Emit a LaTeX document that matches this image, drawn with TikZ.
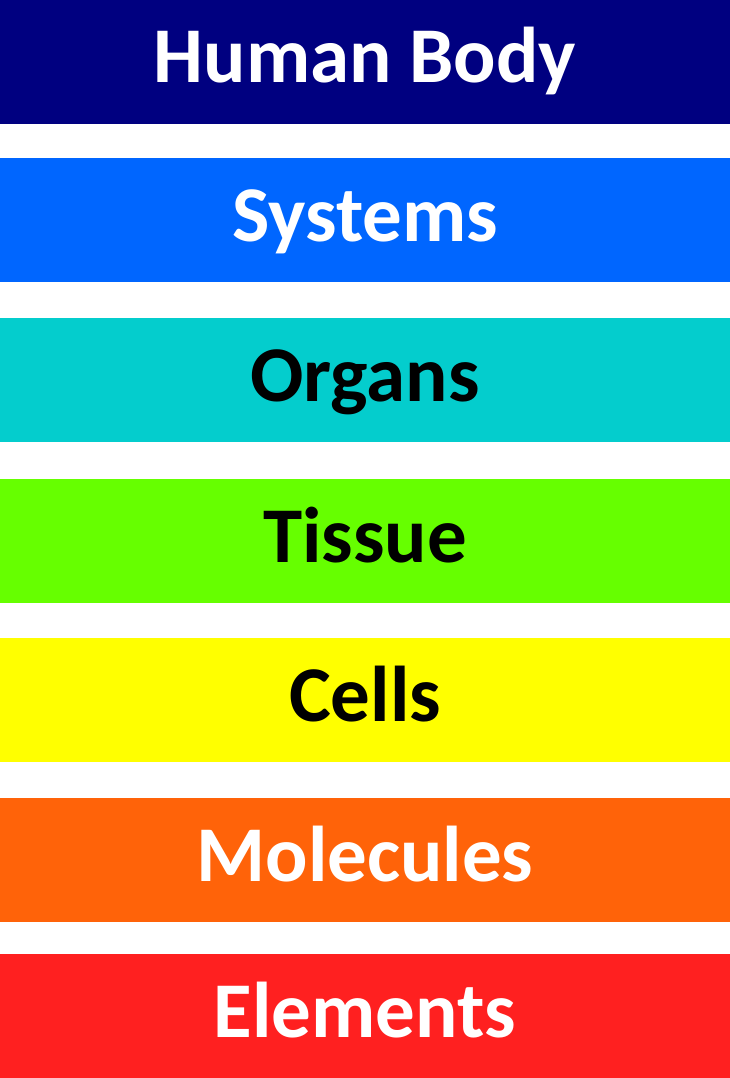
\documentclass[tikz,border=0pt]{standalone}
\usepackage{fontspec}
\setmainfont{Carlito}
\definecolor{cbody}{HTML}{000080}
\definecolor{csys}{HTML}{0066FF}
\definecolor{corg}{HTML}{04CDCD}
\definecolor{ctis}{HTML}{66FF00}
\definecolor{ccel}{HTML}{FFFF00}
\definecolor{cmol}{HTML}{FF6309}
\definecolor{cele}{HTML}{FF2020}
\tikzset{
  bar/.style={draw=none, minimum width=730pt, minimum height=124pt, inner sep=0pt, anchor=north west},
  lbl/.style={font=\fontsize{79}{83}\selectfont\bfseries, anchor=base, inner sep=0pt}
}
\begin{document}
\begin{tikzpicture}[x=1pt,y=-1pt]
\useasboundingbox (0,0) rectangle (730,1078);
\node[bar, fill=cbody] (b1) at (0,0) {};
\node[bar, fill=csys] (b2) at (0,158) {};
\node[bar, fill=corg] (b3) at (0,318) {};
\node[bar, fill=ctis] (b4) at (0,479) {};
\node[bar, fill=ccel] (b5) at (0,638) {};
\node[bar, fill=cmol] (b6) at (0,798) {};
\node[bar, fill=cele] (b7) at (0,954) {};
\node[lbl, text=white] (t1) at (365,83) {Human Body};
\node[lbl, text=white] (t2) at (365,241) {Systems};
\node[lbl, text=black] (t3) at (365,401) {Organs};
\node[lbl, text=black] (t4) at (365,562) {Tissue};
\node[lbl, text=black] (t5) at (365,721) {Cells};
\node[lbl, text=white] (t6) at (365,881) {Molecules};
\node[lbl, text=white] (t7) at (365,1037) {Elements};
\end{tikzpicture}
\end{document}
